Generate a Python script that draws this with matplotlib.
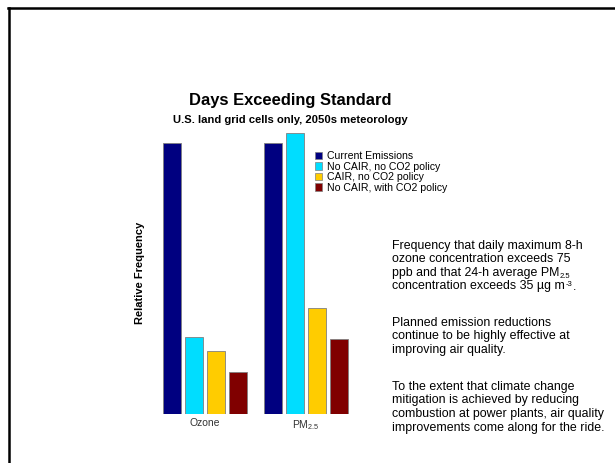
import numpy as np
import matplotlib.pyplot as plt
from matplotlib.lines import Line2D
from matplotlib.patches import Patch

plt.rcParams['font.family'] = ['Liberation Sans', 'DejaVu Sans']
plt.rcParams['mathtext.fontset'] = 'custom'
plt.rcParams['mathtext.rm'] = 'Liberation Sans'
plt.rcParams['mathtext.it'] = 'Liberation Sans:italic'
plt.rcParams['mathtext.bf'] = 'Liberation Sans:bold'

# 数据
groups = ['Ozone', 'PM$_{2.5}$']
scenarios = ['Current Emissions', 'No CAIR, no CO2 policy',
             'CAIR, no CO2 policy', 'No CAIR, with CO2 policy']
ozone = [1.0, 0.286, 0.233, 0.155]
pm25 = [1.0, 1.037, 0.39, 0.276]
colors = ['#000080', '#00DDFF', '#FFCC00', '#800000']

# 右侧说明文字: 每行为 (正文, [(后缀, 垂直偏移pt, 字号)])
notes = [
    [('Frequency that daily maximum 8-h', []),
     ('ozone concentration exceeds 75', []),
     ('ppb and that 24-h average PM', [('2.5', -1.3, 5.5)]),
     ('concentration exceeds 35 \u00b5g m', [('-3', 2.6, 5.5), ('.', 0, 8.9)])],
    [('Planned emission reductions', []),
     ('continue to be highly effective at', []),
     ('improving air quality.', [])],
    [('To the extent that climate change', []),
     ('mitigation is achieved by reducing', []),
     ('combustion at power plants, air quality', []),
     ('improvements come along for the ride.', [])],
]

fig = plt.figure(figsize=(6.15, 4.63), dpi=100)
W, H = 615, 463

# 左上角的黑色边框
fig.add_artist(Line2D([8 / W, 1.0], [1 - 8 / H, 1 - 8 / H], color='black', lw=1.8))
fig.add_artist(Line2D([9 / W, 9 / W], [0, 1 - 8 / H], color='black', lw=1.8))

ax = fig.add_axes([154.5 / W, 1 - 414 / H, 202 / W, 281 / H])
x = np.arange(len(groups))
step = 22 / 101
bw = 18 / 101
vals = np.array([ozone, pm25])
for i in range(len(scenarios)):
    ax.bar(x + (i - 1.5) * step, vals[:, i], width=bw, color=colors[i],
           edgecolor='#808080', linewidth=0.6, label=scenarios[i])
ax.set_xlim(-0.5, 1.5)
ax.set_ylim(0, 1.037)
ax.set_xticks(x)
ax.set_xticklabels(groups, fontsize=7.5, color='#333333')
ax.tick_params(length=0, pad=3)
ax.set_yticks([])
for s in ax.spines.values():
    s.set_visible(False)

fig.text(140 / W, 1 - 273 / H, 'Relative Frequency', rotation=90, fontsize=8,
         fontweight='bold', ha='center', va='center')

fig.text(290.5 / W, 1 - 100 / H, 'Days Exceeding Standard', fontsize=11.9,
         fontweight='bold', ha='center', va='center')
fig.text(290.5 / W, 1 - 120 / H, 'U.S. land grid cells only, 2050s meteorology',
         fontsize=8.1, fontweight='bold', ha='center', va='center')

handles = [Patch(facecolor=c, edgecolor='#808080', linewidth=0.5) for c in colors]
fig.legend(handles, scenarios, loc='upper left', bbox_to_anchor=(315 / W, 1 - 151 / H),
           frameon=False, fontsize=7.6, handlelength=0.7, handleheight=0.7,
           handletextpad=0.4, labelspacing=0.05, borderpad=0, borderaxespad=0)

tx = 392 / W
baselines = [[249, 262.5, 276, 289.5], [326, 339.5, 353], [390, 403.5, 417, 430.5]]
for para, ys in zip(notes, baselines):
    for (line, extras), y in zip(para, ys):
        yf = 1 - y / H
        prev = fig.text(tx, yf, line, fontsize=8.9, ha='left', va='baseline')
        # 下标/上标接在前一段文字的右侧
        for piece, dy, fs in extras:
            prev = ax.annotate(piece, xy=(1, yf), xycoords=(prev, 'figure fraction'),
                               xytext=(0.3, dy), textcoords='offset points',
                               fontsize=fs, ha='left', va='baseline',
                               annotation_clip=False)

fig.savefig('out.png', dpi=100)
